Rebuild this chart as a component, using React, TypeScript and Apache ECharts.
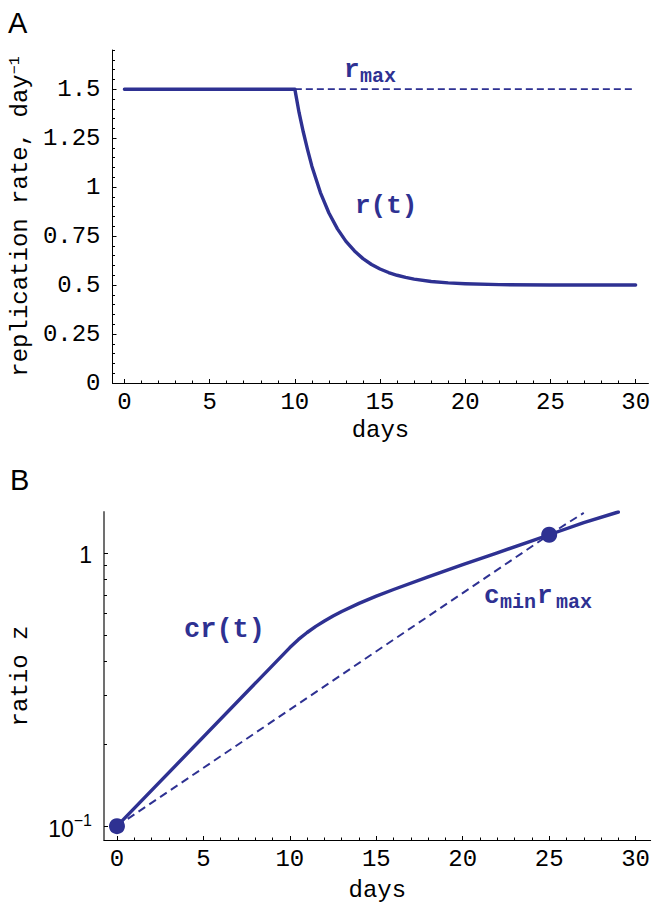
import React, { useEffect, useRef } from "react";
import * as echarts from "echarts";

// ---------- data ----------
const R_DAYS = [0, 10, 10.25, 10.5, 10.75, 11, 11.5, 12, 12.5, 13, 13.5, 14, 14.5, 15, 15.5, 16, 16.5, 17, 18, 19, 20, 22, 25, 30];
const R_VALUES = [1.5, 1.5, 1.38, 1.28, 1.19, 1.107, 0.972, 0.868, 0.787, 0.723, 0.674, 0.635, 0.605, 0.582, 0.564, 0.55, 0.539, 0.53, 0.518, 0.511, 0.507, 0.502, 0.5, 0.5];
const RMAX_DAYS = [10, 30];
const RMAX_VALUES = [1.5, 1.5];

const CR_DAYS = [0, 10, 10.5, 11, 11.5, 12, 12.5, 13, 14, 15, 16, 18, 20, 22, 24, 25, 27, 29];
const CR_VALUES = [0.1, 0.45, 0.482, 0.511, 0.538, 0.563, 0.587, 0.61, 0.653, 0.694, 0.734, 0.816, 0.905, 1.0, 1.106, 1.164, 1.29, 1.41];
const CMIN_DAYS = [0, 25, 27];
const CMIN_VALUES = [0.1, 1.164, 1.40];
const DOT_DAYS = [0, 25];
const DOT_VALUES = [0.1, 1.164];

// ---------- ticks ----------
const A_X_MAJOR = [0, 5, 10, 15, 20, 25, 30];
const A_X_MINOR = [1, 2, 3, 4, 6, 7, 8, 9, 11, 12, 13, 14, 16, 17, 18, 19, 21, 22, 23, 24, 26, 27, 28, 29];
const A_Y_MAJOR = [0, 0.25, 0.5, 0.75, 1, 1.25, 1.5];
const A_Y_MINOR = [0.05, 0.1, 0.15, 0.2, 0.3, 0.35, 0.4, 0.45, 0.55, 0.6, 0.65, 0.7, 0.8, 0.85, 0.9, 0.95, 1.05, 1.1, 1.15, 1.2, 1.3, 1.35, 1.4, 1.45, 1.55, 1.6, 1.65, 1.7];
const B_X_MAJOR = [0, 5, 10, 15, 20, 25, 30];
const B_X_MINOR = [1, 2, 3, 4, 6, 7, 8, 9, 11, 12, 13, 14, 16, 17, 18, 19, 21, 22, 23, 24, 26, 27, 28, 29];
const B_Y_MAJOR = [0.1, 1];
const B_Y_MINOR = [0.2, 0.3, 0.4, 0.5, 0.6, 0.7, 0.8, 0.9];

const NAVY = "#2E3192";
const MONO = "'Liberation Mono', 'Courier New', monospace";
const SANS = "'Liberation Sans', Arial, sans-serif";

const zip = (xs: number[], ys: number[]) => xs.map((x, i) => [x, ys[i]]);

export default function App() {
  const ref = useRef<HTMLDivElement>(null);
  useEffect(() => {
    if (!ref.current) return;
    const chart = echarts.init(ref.current, undefined, { renderer: "svg" });

    const majorX = (gridIndex: number, min: number, max: number, ticks: number[], name: string, gap: number) => ({
      type: "value",
      gridIndex,
      position: "bottom",
      min,
      max,
      name,
      nameLocation: "middle",
      nameGap: gap,
      nameTextStyle: { fontFamily: MONO, fontSize: 24, color: "#000" },
      axisLine: { show: true, onZero: false, lineStyle: { color: "#000", width: 1 } },
      axisTick: { show: true, inside: true, length: 4, customValues: ticks, lineStyle: { color: "#000", width: 1 } },
      axisLabel: { show: true, customValues: ticks, margin: 7, fontFamily: MONO, fontSize: 24, color: "#000" },
      splitLine: { show: false },
    });
    const minorX = (gridIndex: number, min: number, max: number, ticks: number[]) => ({
      type: "value",
      gridIndex,
      position: "bottom",
      min,
      max,
      axisLine: { show: false, onZero: false },
      axisTick: { show: true, inside: true, length: 2.5, customValues: ticks, lineStyle: { color: "#000", width: 1 } },
      axisLabel: { show: false },
      splitLine: { show: false },
    });

    const option = {
      animation: false,
      backgroundColor: "#fff",
      grid: [
        { left: 111, top: 50, width: 540, height: 333 },
        { left: 103, top: 512, width: 548, height: 337 },
      ],
      xAxis: [
        majorX(0, -0.7, 30.75, A_X_MAJOR, "days", 35),
        minorX(0, -0.7, 30.75, A_X_MINOR),
        majorX(1, -0.75, 30.87, B_X_MAJOR, "days", 38),
        minorX(1, -0.75, 30.87, B_X_MINOR),
      ],
      yAxis: [
        {
          type: "value",
          gridIndex: 0,
          position: "left",
          min: 0,
          max: 1.7,
          name: "replication rate, day{sup|−1}",
          nameLocation: "middle",
          nameRotate: 90,
          nameGap: 78,
          nameTextStyle: {
            fontFamily: MONO,
            fontSize: 24,
            color: "#000",
            rich: {
              sup: { fontFamily: MONO, fontSize: 15, color: "#000", verticalAlign: "top", lineHeight: 14 },
            },
          },
          axisLine: { show: true, onZero: false, lineStyle: { color: "#000", width: 1 } },
          axisTick: { show: true, inside: true, length: 4, customValues: A_Y_MAJOR, lineStyle: { color: "#000" } },
          axisLabel: { show: true, customValues: A_Y_MAJOR, margin: 12, fontFamily: MONO, fontSize: 24, color: "#000" },
          splitLine: { show: false },
        },
        {
          type: "value",
          gridIndex: 0,
          position: "left",
          min: 0,
          max: 1.7,
          axisLine: { show: false, onZero: false },
          axisTick: { show: true, inside: true, length: 2.5, customValues: A_Y_MINOR, lineStyle: { color: "#000" } },
          axisLabel: { show: false },
          splitLine: { show: false },
        },
        {
          type: "log",
          logBase: 10,
          gridIndex: 1,
          position: "left",
          min: 0.089,
          max: 1.41,
          name: "ratio z",
          nameLocation: "middle",
          nameRotate: 90,
          nameGap: 72,
          nameTextStyle: { fontFamily: MONO, fontSize: 24, color: "#000" },
          axisLine: { show: true, onZero: false, lineStyle: { color: "#707070", width: 2 } },
          axisTick: { show: true, inside: true, length: 4, customValues: B_Y_MAJOR, lineStyle: { color: "#000" } },
          axisLabel: {
            show: true,
            customValues: B_Y_MAJOR,
            margin: 12,
            fontFamily: SANS,
            fontSize: 23,
            color: "#000",
            formatter: (v: number) => (v < 0.5 ? "{b|10}{s|−1}" : "{b|1}"),
            rich: {
              b: { fontFamily: SANS, fontSize: 23, color: "#000", lineHeight: 28, verticalAlign: "bottom" },
              s: { fontFamily: SANS, fontSize: 16, color: "#000", lineHeight: 16, verticalAlign: "top" },
            },
          },
          splitLine: { show: false },
        },
        {
          type: "log",
          logBase: 10,
          gridIndex: 1,
          position: "left",
          min: 0.089,
          max: 1.41,
          axisLine: { show: false, onZero: false },
          axisTick: { show: true, inside: true, length: 3, customValues: B_Y_MINOR, lineStyle: { color: "#000" } },
          axisLabel: { show: false },
          splitLine: { show: false },
        },
      ],
      series: [
        {
          type: "line",
          xAxisIndex: 0,
          yAxisIndex: 0,
          data: zip(RMAX_DAYS, RMAX_VALUES),
          symbol: "none",
          lineStyle: { color: NAVY, width: 1.8, type: [7, 4] },
          z: 2,
        },
        {
          type: "line",
          xAxisIndex: 0,
          yAxisIndex: 0,
          data: zip(R_DAYS, R_VALUES),
          symbol: "none",
          smooth: false,
          lineStyle: { color: NAVY, width: 3.4, join: "round", cap: "round" },
          z: 3,
        },
        {
          type: "line",
          xAxisIndex: 2,
          yAxisIndex: 2,
          data: zip(CMIN_DAYS, CMIN_VALUES),
          symbol: "none",
          lineStyle: { color: NAVY, width: 2, type: [8, 5] },
          z: 2,
        },
        {
          type: "line",
          xAxisIndex: 2,
          yAxisIndex: 2,
          data: zip(CR_DAYS, CR_VALUES),
          symbol: "none",
          smooth: false,
          lineStyle: { color: NAVY, width: 3.4, join: "round", cap: "round" },
          z: 3,
        },
        {
          type: "scatter",
          xAxisIndex: 2,
          yAxisIndex: 2,
          data: zip(DOT_DAYS, DOT_VALUES),
          symbol: "circle",
          symbolSize: 16,
          itemStyle: { color: NAVY, opacity: 1 },
          z: 4,
        },
      ],
      graphic: [
        { type: "text", left: 8, top: 8, style: { text: "A", fontFamily: SANS, fontSize: 29, fill: "#000" } },
        { type: "text", left: 10, top: 465, style: { text: "B", fontFamily: SANS, fontSize: 29, fill: "#000" } },
        { type: "text", x: 344, y: 70, style: { text: "r", fontFamily: MONO, fontWeight: "bold", fontSize: 26, fill: NAVY, verticalAlign: "middle" } },
        { type: "text", x: 360, y: 76, style: { text: "max", fontFamily: MONO, fontWeight: "bold", fontSize: 20, fill: NAVY, verticalAlign: "middle" } },
        { type: "text", x: 355, y: 206, style: { text: "r(t)", fontFamily: MONO, fontWeight: "bold", fontSize: 26, fill: NAVY, verticalAlign: "middle" } },
        { type: "text", x: 184, y: 630, style: { text: "cr(t)", fontFamily: MONO, fontWeight: "bold", fontSize: 27, fill: NAVY, verticalAlign: "middle" } },
        { type: "text", x: 484, y: 596, style: { text: "c", fontFamily: MONO, fontWeight: "bold", fontSize: 26, fill: NAVY, verticalAlign: "middle" } },
        { type: "text", x: 500, y: 602, style: { text: "min", fontFamily: MONO, fontWeight: "bold", fontSize: 20, fill: NAVY, verticalAlign: "middle" } },
        { type: "text", x: 537, y: 596, style: { text: "r", fontFamily: MONO, fontWeight: "bold", fontSize: 26, fill: NAVY, verticalAlign: "middle" } },
        { type: "text", x: 556, y: 602, style: { text: "max", fontFamily: MONO, fontWeight: "bold", fontSize: 20, fill: NAVY, verticalAlign: "middle" } },
      ],
    };

    chart.setOption(option as any);
    return () => chart.dispose();
  }, []);

  return <div ref={ref} style={{ position: "absolute", left: 0, top: 0, width: 653, height: 903 }} />;
}
